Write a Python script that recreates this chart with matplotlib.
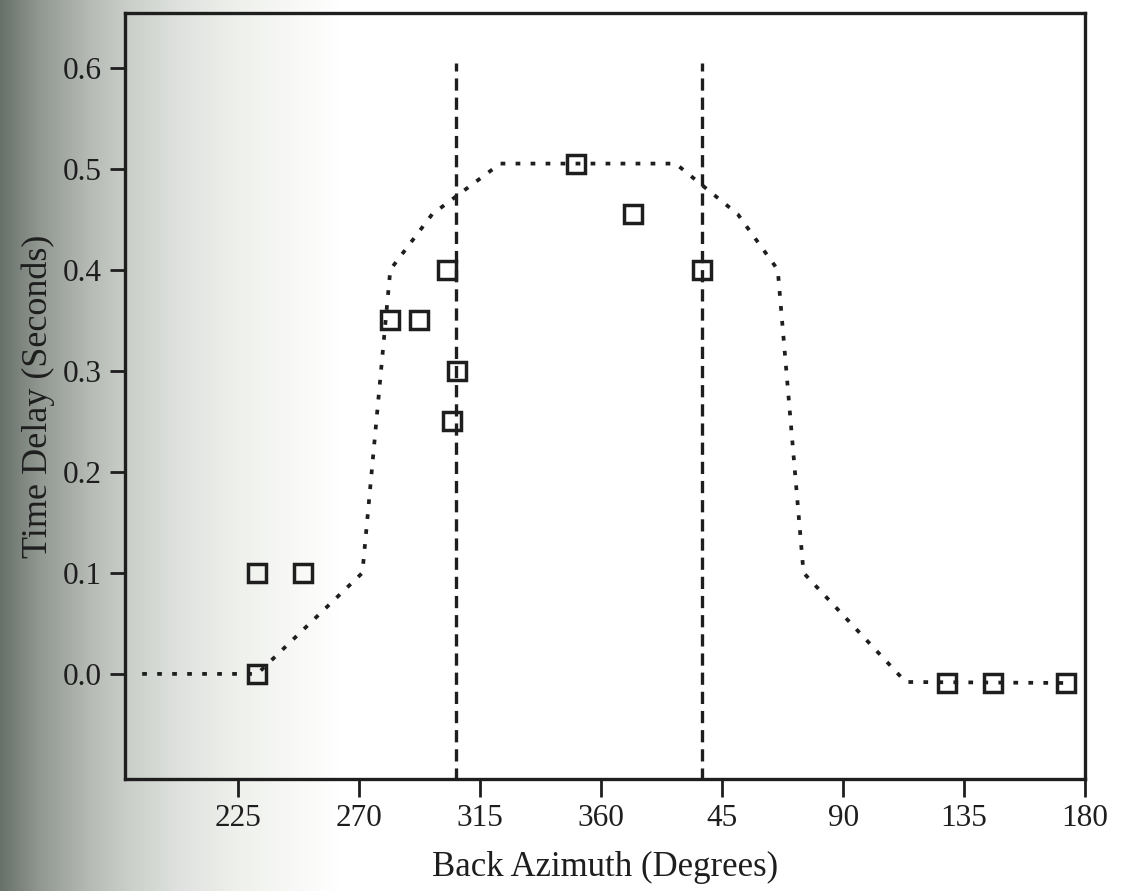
import numpy as np
import matplotlib

matplotlib.use("Agg")
import matplotlib.pyplot as plt

plt.rcParams["font.family"] = ["Liberation Serif", "DejaVu Serif"]
plt.rcParams["lines.scale_dashes"] = False

# observed arrivals (back azimuth unwrapped past 360, time delay in s)
obs_az = [232.1, 232.1, 249.2, 281.6, 292.4, 302.8, 306.5, 304.7,
          350.5, 371.7, 397.4, 488.6, 505.7, 532.9]
obs_delay = [0.0, 0.10, 0.10, 0.35, 0.35, 0.40, 0.30, 0.25,
             0.505, 0.455, 0.40, -0.009, -0.009, -0.009]

# predicted delay curve
model_az = [189.3, 232.1, 271.2, 281.6, 297.2, 322.5, 387.7, 410.8,
            425.7, 435.3, 473.3, 532.9]
model_delay = [0.0, 0.0, 0.10, 0.40, 0.455, 0.505, 0.505, 0.455,
               0.40, 0.10, -0.008, -0.009]

# event bearings (dashed)
bearing_az = [306.0, 397.5]
bearing_top = 0.605

tick_pos = [225, 270, 315, 360, 405, 450, 495, 540]
tick_lbl = ["225", "270", "315", "360", "45", "90", "135", "180"]
ytick_pos = [0.0, 0.1, 0.2, 0.3, 0.4, 0.5, 0.6]

ink = "#1e1e1e"

fig = plt.figure(figsize=(11.30, 8.91), dpi=100)

# scanned-page shading along the binding
stops_px = [0, 40, 90, 130, 180, 240, 300, 340, 1130]
stops_c = np.array([
    [104, 112, 106], [146, 152, 146], [182, 187, 182], [203, 208, 203],
    [223, 226, 222], [239, 241, 237], [249, 250, 247], [255, 255, 255],
    [255, 255, 255]]) / 255.0
cols = np.arange(1130)
shade = np.stack([np.interp(cols, stops_px, stops_c[:, k]) for k in range(3)], axis=-1)
bg = fig.add_axes([0, 0, 1, 1], zorder=-5)
bg.imshow(shade[np.newaxis, :, :], aspect="auto", extent=[0, 1, 0, 1])
bg.axis("off")

ax = fig.add_axes([0.1106, 0.1257, 0.8496, 0.8597])
ax.set_facecolor("none")

ax.plot(model_az, model_delay, color=ink, lw=2.7, dashes=(3.4, 7.4),
        dash_capstyle="butt")
ax.vlines(bearing_az, -0.2, bearing_top, color=ink, lw=2.4,
          linestyles=[(0, (8.8, 5.0))])
ax.plot(obs_az, obs_delay, ls="none", marker="s", ms=13.2, mew=2.5,
        mfc="none", mec=ink)

ax.set_xlim(182.9, 540)
ax.set_ylim(-0.104, 0.654)
ax.set_xticks(tick_pos)
ax.set_xticklabels(tick_lbl)
ax.set_yticks(ytick_pos)
ax.set_yticklabels([f"{v:.1f}" for v in ytick_pos])

for s in ax.spines.values():
    s.set_linewidth(2.4)
    s.set_color(ink)
ax.tick_params(axis="x", length=13, width=2.0, pad=5, labelsize=22.5,
               colors=ink)
ax.tick_params(axis="y", length=11, width=2.0, pad=6, labelsize=22.5,
               colors=ink)

ax.set_xlabel("Back Azimuth (Degrees)", fontsize=25, color=ink, labelpad=13)
ax.set_ylabel("Time Delay (Seconds)", fontsize=26, color=ink, labelpad=5)

fig.savefig("out.png", dpi=100)
plt.close(fig)
